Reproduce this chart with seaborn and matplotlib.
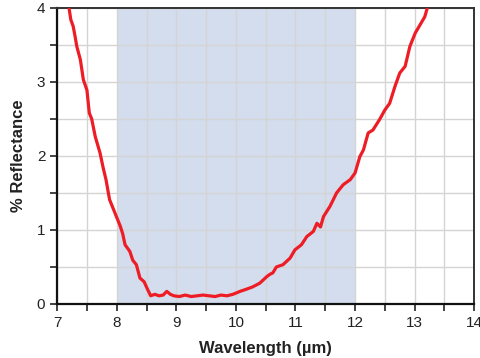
import matplotlib
matplotlib.use("Agg")
import matplotlib.pyplot as plt
import seaborn as sns
from matplotlib.ticker import MultipleLocator

# Reflectance curve
wavelength = [7.18, 7.23, 7.27, 7.30, 7.33, 7.39, 7.44, 7.50, 7.54, 7.58, 7.64, 7.72,
              7.77, 7.82, 7.88, 7.97, 8.06, 8.10, 8.14, 8.22, 8.27, 8.33, 8.39, 8.46,
              8.51, 8.57, 8.64, 8.71, 8.78, 8.84, 8.90, 8.96, 9.05, 9.15, 9.25, 9.35,
              9.45, 9.55, 9.65, 9.75, 9.85, 9.95, 10.07, 10.18, 10.28, 10.40, 10.52,
              10.57, 10.62, 10.68, 10.79, 10.91, 10.99, 11.10, 11.19, 11.30, 11.36,
              11.42, 11.47, 11.58, 11.69, 11.80, 11.92, 12.00, 12.08, 12.14, 12.22,
              12.30, 12.41, 12.50, 12.58, 12.67, 12.75, 12.84, 12.92, 13.01, 13.09,
              13.17, 13.22]
reflectance = [4.10, 3.84, 3.75, 3.62, 3.48, 3.30, 3.03, 2.89, 2.58, 2.50, 2.26, 2.04,
               1.85, 1.68, 1.41, 1.23, 1.05, 0.95, 0.80, 0.71, 0.59, 0.53, 0.35, 0.30,
               0.21, 0.11, 0.13, 0.11, 0.12, 0.17, 0.13, 0.11, 0.10, 0.12, 0.10, 0.11,
               0.12, 0.11, 0.10, 0.12, 0.11, 0.13, 0.17, 0.20, 0.23, 0.28, 0.37,
               0.40, 0.42, 0.50, 0.53, 0.62, 0.73, 0.80, 0.91, 0.98, 1.09,
               1.04, 1.18, 1.32, 1.50, 1.61, 1.68, 1.77, 1.99, 2.08, 2.31,
               2.35, 2.49, 2.62, 2.71, 2.94, 3.12, 3.21, 3.48, 3.66, 3.77,
               3.88, 4.02]
band = (8, 12)

sns.set_style("white")
plt.rcParams["font.family"] = ["Liberation Sans", "DejaVu Sans"]

fig = plt.figure(figsize=(4.8, 3.58), dpi=100)
ax = fig.add_axes([0.119, 0.151, 0.869, 0.827])

ax.axvspan(band[0], band[1], color="#d3ddee", zorder=0, lw=0)
sns.lineplot(x=wavelength, y=reflectance, color="#ee1c25", lw=2.3, ax=ax, zorder=3)

ax.set_xlim(7, 14)
ax.set_ylim(0, 4)
ax.xaxis.set_major_locator(MultipleLocator(1))
ax.xaxis.set_minor_locator(MultipleLocator(0.5))
ax.yaxis.set_major_locator(MultipleLocator(1))
ax.yaxis.set_minor_locator(MultipleLocator(0.5))
ax.grid(True, which="both", color="#d4d4d4", lw=1.0, zorder=1)
ax.set_axisbelow(True)

ax.tick_params(which="both", direction="out", length=5, width=1.2, color="#222222",
               bottom=True, left=True, labelsize=11, labelcolor="#222222")
for s in ["left", "bottom"]:
    ax.spines[s].set_color("#111111")
    ax.spines[s].set_linewidth(1.6)
for s in ["top", "right"]:
    ax.spines[s].set_color("#333333")
    ax.spines[s].set_linewidth(1.4)

ax.set_xlabel("Wavelength (µm)", fontsize=12, fontweight="bold", labelpad=8, color="#222222")
ax.set_ylabel("% Reflectance", fontsize=12, fontweight="bold", labelpad=8, color="#222222")

fig.savefig("out.png", dpi=100)
